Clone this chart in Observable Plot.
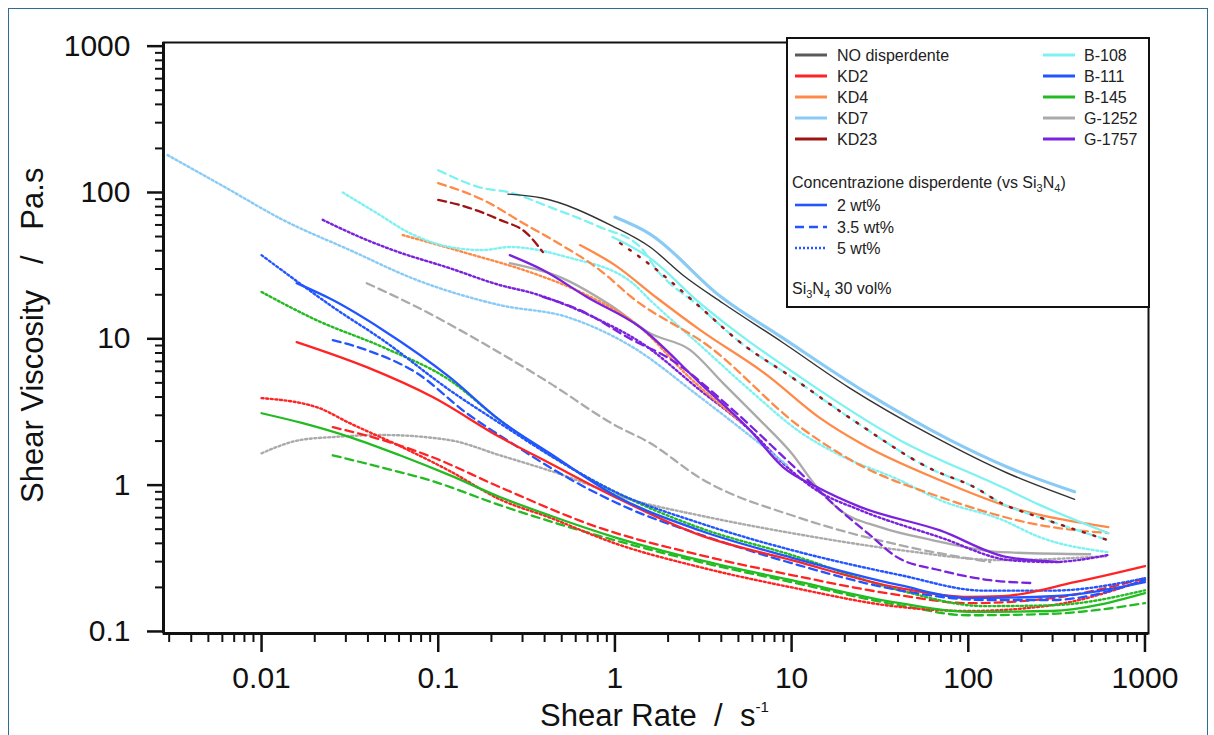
<!DOCTYPE html>
<html><head><meta charset="utf-8">
<script src="https://cdn.jsdelivr.net/npm/d3@7"></script>
<script src="https://cdn.jsdelivr.net/npm/@observablehq/plot@0.6"></script>
<style>
body{margin:0;background:#fff;}
#wrap{position:relative;width:1214px;height:735px;overflow:hidden;background:#fff;}
#border{position:absolute;left:8px;top:8px;width:1200px;height:780px;border:1.5px solid #2b6e91;box-sizing:border-box;pointer-events:none;}
#chart{position:absolute;left:0;top:0;}
</style></head><body>
<div id="wrap"><div id="chart"></div><div id="border"></div></div>
<script>
// ---- legend / categories ----
const dispersants = ["NO disperdente","KD2","KD4","KD7","KD23","B-108","B-111","B-145","G-1252","G-1757"];
const dispColors  = ["#333333","#ff2424","#ff8a48","#8acbf6","#9e1414","#7ef2f2","#2255ff","#22bb22","#aaaaaa","#7a22dd"];
const legendLineColors = ["#5a5a5a","#ff2424","#ff8a48","#8acbf6","#9e1414","#7ef2f2","#2255ff","#22bb22","#aaaaaa","#7a22dd"];
const concLabels = ["2 wt%","3.5 wt%","5 wt%"];
const concDash = [null,"8,5","2,2.6"];

// ---- axis ticks ----
const xMajor = [0.01,0.1,1,10,100,1000];
const yMajor = [0.1,1,10,100,1000];

// ---- data: [shear rate (1/s), viscosity (Pa.s)] ----
const NO_disp = [[0.248,97.5],[0.386,91.6],[0.97,58.9],[1.58,42.4],[2.43,27.2],[4.09,17.5],[8.94,9.4],[20.9,4.68],[63.2,2.16],[166,1.21],[400,0.80]];

const KD2_2  = [[0.0158,9.5],[0.0394,6.4],[0.093,4.0],[0.223,2.13],[0.428,1.41],[1,0.83],[3.03,0.455],[10,0.307],[41,0.198],[100,0.172],[155,0.174],[400,0.217],[1000,0.28]];
const KD2_35 = [[0.0253,2.49],[0.0486,2.03],[0.093,1.55],[0.223,0.97],[0.822,0.51],[3.03,0.333],[10,0.243],[41,0.177],[100,0.156],[296,0.169],[1000,0.231]];
const KD2_5  = [[0.01,3.93],[0.0205,3.41],[0.0316,2.65],[0.0606,1.85],[0.116,1.25],[0.223,0.8],[0.428,0.6],[1,0.4],[3.03,0.275],[10,0.2],[41,0.147],[100,0.138],[296,0.151],[1000,0.225]];

const KD4_2  = [[0.634,43.7],[1,31.9],[1.73,19],[3.03,11.5],[7.26,5.65],[14.5,2.87],[24.4,1.94],[69.2,1.08],[166,0.718],[620,0.516]];
const KD4_35 = [[0.1,116],[0.179,89],[0.316,59.9],[0.446,47.3],[0.822,29.5],[1.26,19],[3.45,8.77],[11.2,2.49],[24.4,1.37],[69.2,0.83],[255,0.533],[620,0.47]];
const KD4_5  = [[0.063,51.2],[0.145,38.5],[0.343,28.1],[0.659,20.5],[1.39,12],[2.56,5.65],[5.45,2.57]];

const KD7_2  = [[1.0,67.9],[1.58,52],[3.93,19.6],[8.94,10.1],[26.7,4.25],[78.9,2.03],[166,1.33],[400,0.90]];
const KD7_5  = [[0.00294,180],[0.00635,107],[0.0132,65],[0.0316,40.4],[0.0757,25.2],[0.223,17.0],[0.535,14.1],[1.26,8.77],[3.03,4.0],[9.42,1.37]];

const KD23_35 = [[0.1,89],[0.145,79.5],[0.223,65],[0.316,52.8],[0.391,39.1]];
const KD23_5  = [[1.07,45.1],[1.73,29.5],[3.03,16.5],[5.1,9.49],[10,5.47],[22.3,2.78],[63.2,1.27],[108,0.97],[155,0.75],[255,0.6],[620,0.42]];

const B108_2  = [[0.97,49.6],[1.58,35.6],[3.03,17.5],[11.2,5.47],[41,2.03],[155,0.97],[255,0.73],[620,0.47]];
const B108_35 = [[0.1,142],[0.179,107],[0.254,100],[0.428,79.4],[0.822,58],[1.39,42.4],[1.73,29.5],[3.03,16.5],[5.1,9.49],[10,5.47],[22.3,2.78],[63.2,1.27],[108,0.97],[155,0.75],[255,0.6],[620,0.42]];
const B108_5  = [[0.0288,100],[0.0449,72.3],[0.069,52.8],[0.116,42.4],[0.179,40.4],[0.254,42.4],[0.535,36.2],[1.26,24],[1.58,18.4],[3.03,9.06],[5.8,4.46],[11.2,2.3],[18.8,1.6],[41,1.08],[69.2,0.79],[155,0.58],[255,0.44],[620,0.348]];

const B111_2  = [[0.0158,24],[0.0253,18.4],[0.0486,11.5],[0.116,5.47],[0.223,2.78],[0.428,1.65],[1,0.85],[3.03,0.49],[10,0.32],[41,0.207],[100,0.169],[296,0.174],[1000,0.217]];
const B111_35 = [[0.0253,9.8],[0.0394,8.37],[0.0757,5.83],[0.145,3.1],[0.245,2.03],[0.535,1.13],[1.26,0.675],[3.03,0.46],[10,0.293],[41,0.191],[123,0.164],[296,0.164],[1000,0.224]];
const B111_5  = [[0.01,37.3],[0.0164,24],[0.0253,16.5],[0.0486,9.8],[0.116,4.46],[0.223,2.65],[0.428,1.6],[1,0.9],[3.03,0.55],[10,0.36],[41,0.243],[123,0.19],[296,0.19],[1000,0.231]];

const B145_2  = [[0.01,3.1],[0.0171,2.65],[0.0316,2.13],[0.0606,1.6],[0.116,1.17],[0.223,0.83],[0.428,0.62],[1,0.44],[3.03,0.307],[10,0.224],[41,0.156],[100,0.136],[296,0.138],[1000,0.183]];
const B145_35 = [[0.0253,1.6],[0.0467,1.33],[0.0896,1.08],[0.223,0.73],[1,0.42],[3.03,0.298],[10,0.217],[41,0.151],[100,0.129],[296,0.132],[1000,0.156]];
const B145_5  = [[0.01,20.9],[0.0205,13.4],[0.0486,8.77],[0.116,5.22],[0.223,2.78],[0.457,1.53],[1,0.9],[3.03,0.51],[10,0.333],[41,0.191],[123,0.149],[296,0.151],[1000,0.191]];

const G1252_2  = [[0.254,32.9],[0.489,26.4],[0.94,17],[1.58,10.9],[2.66,8.4],[4.09,4.98],[6.62,2.78],[10,1.65],[13.9,0.97],[18.8,0.675],[31.7,0.516],[63.2,0.42],[155,0.348],[490,0.337]];
const G1252_35 = [[0.0394,24],[0.0757,16.5],[0.179,9.35],[0.428,4.98],[1,2.57],[1.58,1.94],[3.03,1.12],[11.2,0.595],[41,0.389],[133,0.298]];
const G1252_5  = [[0.01,1.65],[0.0164,2.03],[0.0253,2.13],[0.0486,2.2],[0.116,2.03],[0.223,1.6],[0.47,1.21],[1.26,0.79],[3.03,0.62],[10,0.47],[41,0.36],[155,0.307],[620,0.327]];

const G1757_2  = [[0.254,37.3],[0.391,29.5],[0.694,19.3],[1.39,12],[3.03,4.98],[5.8,2.38],[8.94,1.33],[13.9,0.97],[24.4,0.71],[69.2,0.49],[166,0.322],[331,0.298]];
const G1757_35 = [[0.391,19.3],[0.634,15.7],[1.26,9.8],[1.97,7.5],[4.66,3.26],[9.42,1.48],[18.8,0.675],[27.8,0.455],[39.5,0.322],[69.2,0.262],[133,0.224],[233,0.214]];
const G1757_5  = [[0.0222,65],[0.036,49.6],[0.0553,40.4],[0.116,30.4],[0.223,23.3],[0.343,20.5],[0.822,13.4],[1.39,9.5],[3.03,4.46],[5.8,2.38],[8.94,1.41],[13.9,0.92],[24.4,0.675],[69.2,0.44],[172,0.307],[296,0.298],[620,0.333]];

// series registry: dispersant index, concentration index, data
const seriesList = [
  [8,2,G1252_5],[8,1,G1252_35],[8,0,G1252_2],
  [7,1,B145_35],[1,2,KD2_5],[7,0,B145_2],[1,1,KD2_35],[7,2,B145_5],[6,1,B111_35],[6,2,B111_5],[1,0,KD2_2],[6,0,B111_2],
  [9,2,G1757_5],[3,2,KD7_5],[2,2,KD4_5],[9,1,G1757_35],[9,0,G1757_2],
  [5,2,B108_5],[2,1,KD4_35],[2,0,KD4_2],
  [5,1,B108_35],[4,1,KD23_35],[4,2,KD23_5],[5,0,B108_2],
  [3,0,KD7_2],[0,0,NO_disp]
];

// minor ticks (2..9 within each decade)
const xMinor = [], yMinor = [];
for (let e = -3; e <= 2; e++) for (let k = 2; k <= 9; k++) { const v = k * Math.pow(10, e); if (v >= 0.0029 && v <= 1000) xMinor.push(v); }
for (let e = -1; e <= 2; e++) for (let k = 2; k <= 9; k++) yMinor.push(k * Math.pow(10, e));

const xDomain = [Math.pow(10, -2.555), Math.pow(10, 3.02)];
const yDomain = [Math.pow(10, -1.014), Math.pow(10, 3.025)];

const lineMarks = seriesList.map(([di, ci, data]) => {
  let sw = 2.3, dash = concDash[ci];
  if (di === 0) sw = 1.4;
  if (di === 3 && ci === 0) sw = 3.2;
  if (ci === 2) sw = 2.4;
  if (di === 4 && ci === 2) { dash = "2,9"; sw = 2.4; }
  const o = {x: d => d[0], y: d => d[1], stroke: dispColors[di], strokeWidth: sw, curve: "monotone-x"};
  if (dash) o.strokeDasharray = dash;
  return Plot.line(data, o);
});

const chart = Plot.plot({
  width: 1214, height: 735,
  marginLeft: 163, marginRight: 66, marginTop: 42, marginBottom: 102,
  x: {type: "log", domain: xDomain},
  y: {type: "log", domain: yDomain},
  style: {fontFamily: "'Liberation Sans', Arial, sans-serif", background: "transparent", color: "#111"},
  marks: [
    ...lineMarks,
    Plot.frame({stroke: "#111", strokeWidth: 2}),
    Plot.ruleX([xDomain[0]], {stroke: "#111", strokeWidth: 3}),
    Plot.ruleY([yDomain[0]], {stroke: "#111", strokeWidth: 3}),
    Plot.axisY(yMinor, {tickSize: 8, tickFormat: () => "", label: null, strokeWidth: 2}),
    Plot.axisY(yMajor, {tickSize: 16, tickPadding: 17, tickFormat: d => String(d), fontSize: 30, label: null, strokeWidth: 2.5}),
    Plot.axisX(xMinor, {tickSize: 9, tickFormat: () => "", label: null, strokeWidth: 2}),
    Plot.axisX(xMajor, {tickSize: 19, tickPadding: 14, tickFormat: d => String(d), fontSize: 30, label: null, strokeWidth: 2.5})
  ]
});
document.getElementById("chart").appendChild(chart);

// ---- titles and legend ----
const svg = d3.select(chart);
const FF = "'Liberation Sans', Arial, sans-serif";
const nb = "\u00a0";

svg.append("text").attr("transform", "translate(43,503) rotate(-90)")
  .attr("text-anchor", "start")
  .attr("font-family", FF).attr("font-size", 31).attr("fill", "#111")
  .text("Shear Viscosity" + nb+nb+nb + "/" + nb+nb+nb + "Pa.s");

const xt = svg.append("text").attr("x", 540).attr("y", 726).attr("text-anchor", "start")
  .attr("font-family", FF).attr("font-size", 31).attr("fill", "#111");
xt.append("tspan").text("Shear Rate" + nb+nb + "/" + nb+nb + "s");
xt.append("tspan").attr("font-size", 15).attr("dy", -14).text("-1");

const lg = svg.append("g").attr("font-family", FF).attr("font-size", 16).attr("fill", "#222").attr("text-anchor", "start");
lg.append("rect").attr("x", 787).attr("y", 38).attr("width", 362).attr("height", 269)
  .attr("fill", "#fff").attr("stroke", "#111").attr("stroke-width", 2);
const rowY = [55, 76, 97, 118, 139];
dispersants.forEach((name, i) => {
  const col = i < 5 ? 0 : 1, r = i % 5;
  const lx = col === 0 ? 795 : 1043, tx = col === 0 ? 837 : 1084;
  lg.append("line").attr("x1", lx).attr("x2", lx + 32).attr("y1", rowY[r]).attr("y2", rowY[r])
    .attr("stroke", legendLineColors[i]).attr("stroke-width", 3);
  lg.append("text").attr("x", tx).attr("y", rowY[r] + 6).text(name);
});
const ct = lg.append("text").attr("x", 792).attr("y", 188);
ct.append("tspan").text("Concentrazione disperdente (vs Si");
ct.append("tspan").attr("font-size", 11).attr("dy", 4).text("3");
ct.append("tspan").attr("dy", -4).text("N");
ct.append("tspan").attr("font-size", 11).attr("dy", 4).text("4");
ct.append("tspan").attr("dy", -4).text(")");
const concY = [205, 227, 248];
concLabels.forEach((lab, i) => {
  const ln = lg.append("line").attr("x1", 795).attr("x2", 827).attr("y1", concY[i]).attr("y2", concY[i])
    .attr("stroke", "#2255ff").attr("stroke-width", 2.6);
  if (concDash[i]) ln.attr("stroke-dasharray", i === 1 ? "9,5" : "2,2");
  lg.append("text").attr("x", 837).attr("y", concY[i] + 6).text(lab);
});
const st = lg.append("text").attr("x", 792).attr("y", 294);
st.append("tspan").text("Si");
st.append("tspan").attr("font-size", 11).attr("dy", 4).text("3");
st.append("tspan").attr("dy", -4).text("N");
st.append("tspan").attr("font-size", 11).attr("dy", 4).text("4");
st.append("tspan").attr("dy", -4).text(" 30 vol%");
</script>
</body></html>
